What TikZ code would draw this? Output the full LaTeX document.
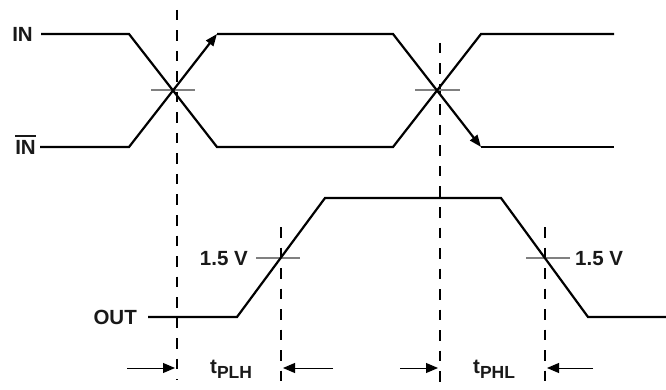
\documentclass[tikz,border=0pt]{standalone}
\usepackage{fontspec}
\setmainfont{Liberation Sans}
\usetikzlibrary{arrows.meta}
\newcommand\myovl[1]{\setbox0\hbox{#1}\rlap{\rule[\dimexpr\ht0+3.5pt\relax]{\wd0}{1.6pt}}\box0}
\begin{document}
\begin{tikzpicture}[x=1pt,y=-1pt,
  sig/.style={line width=2.2pt, line join=miter},
  sigarrow/.style={sig, -{Triangle[length=12pt,width=9pt]}},
  guide/.style={line width=1.4pt, dash pattern=on 10.5pt off 10pt},
  tickmark/.style={line width=1.5pt, draw=black!50},
  lbl/.style={font=\fontsize{20.5}{20.5}\selectfont\bfseries, inner sep=0pt, text=black!90},
  dim/.style={line width=1pt, -{Triangle[length=12pt,width=10pt]}}
]
\useasboundingbox (0,0) rectangle (666,390);

% labels
\node[lbl, anchor=base east] (lin) at (33,41.5) {IN};
\node[lbl, anchor=base east] (linb) at (36,154.5) {\myovl{IN}};
\node[lbl, anchor=base east] (lout) at (137,324.5) {OUT};
\node[lbl, anchor=base east] (lv1) at (248,265.5) {1.5 V};
\node[lbl, anchor=base west] (lv2) at (575,265.5) {1.5 V};
\node[lbl, anchor=base west] (tplh) at (210,373) {t{\fontsize{17.5}{17.5}\selectfont\raisebox{-5pt}{PLH}}};
\node[lbl, anchor=base west] (tphl) at (473,373) {t{\fontsize{17.5}{17.5}\selectfont\raisebox{-5pt}{PHL}}};

% waveform corners
\coordinate (a0) at (41,34);  \coordinate (a1) at (129,34);  \coordinate (a2) at (217,147);
\coordinate (a3) at (393,147); \coordinate (a4) at (481,34);  \coordinate (a5) at (614,34);
\coordinate (b0) at (40,147); \coordinate (b1) at (129,147); \coordinate (b2) at (217,34);
\coordinate (b3) at (393,34);  \coordinate (b4) at (481,147); \coordinate (b5) at (614,147);
\coordinate (o0) at (148,317); \coordinate (o1) at (237,317); \coordinate (o2) at (325,198);
\coordinate (o3) at (501,198); \coordinate (o4) at (588,317); \coordinate (o5) at (666,317);

% dashed guides
\coordinate (g1t) at (177,10);  \coordinate (g1b) at (177,380);
\coordinate (g2t) at (281,227); \coordinate (g2b) at (281,386);
\coordinate (g3t) at (440,43);  \coordinate (g3b) at (440,390);
\coordinate (g4t) at (545,227); \coordinate (g4b) at (545,386);
\draw[guide] (g1t) -- (g1b);
\draw[guide] (g2t) -- (g2b);
\draw[guide] (g3t) -- (g3b);
\draw[guide] (g4t) -- (g4b);

% crossing marks
\coordinate (c1l) at (151,90); \coordinate (c1r) at (195,90);
\coordinate (c2l) at (415,90); \coordinate (c2r) at (460,90);
\coordinate (c3l) at (256,258); \coordinate (c3r) at (300,258);
\coordinate (c4l) at (526,258); \coordinate (c4r) at (570,258);
\draw[tickmark] (c1l) -- (c1r);
\draw[tickmark] (c2l) -- (c2r);
\draw[tickmark] (c3l) -- (c3r);
\draw[tickmark] (c4l) -- (c4r);

% signals
\draw[sig] (a0) -- (a1) -- (a2) -- (a3) -- (a4) -- (a5);
\draw[sigarrow] (b0) -- (b1) -- (b2);
\draw[sigarrow] (b2) -- (b3) -- (b4);
\draw[sig] (b4) -- (b5);
\draw[sig] (o0) -- (o1) -- (o2) -- (o3) -- (o4) -- (o5);

% dimension arrows
\coordinate (d1s) at (127,368); \coordinate (d1e) at (175,368);
\coordinate (d2s) at (333,368); \coordinate (d2e) at (283,368);
\coordinate (d3s) at (400,368); \coordinate (d3e) at (438,368);
\coordinate (d4s) at (593,368); \coordinate (d4e) at (547,368);
\draw[dim] (d1s) -- (d1e);
\draw[dim] (d2s) -- (d2e);
\draw[dim] (d3s) -- (d3e);
\draw[dim] (d4s) -- (d4e);
\end{tikzpicture}
\end{document}
